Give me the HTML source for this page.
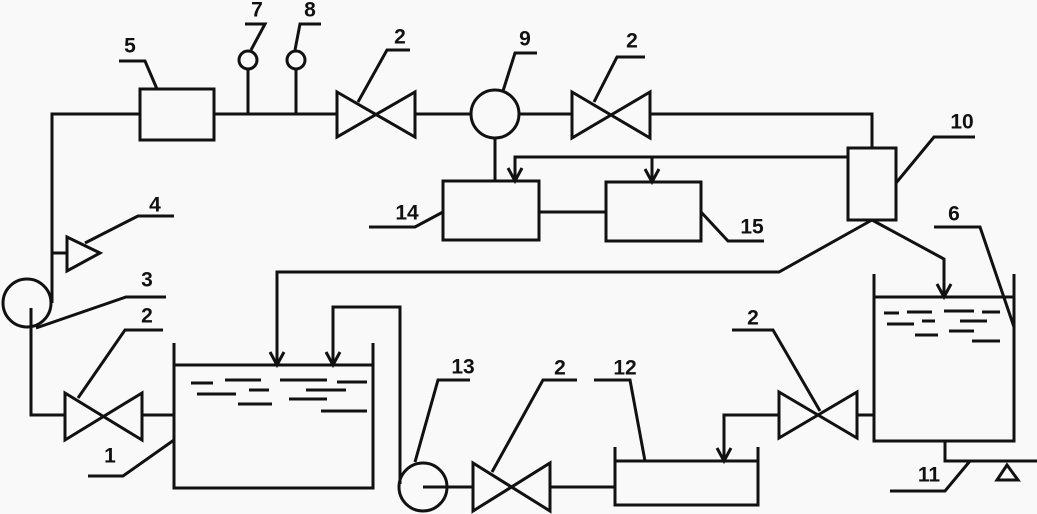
<!DOCTYPE html>
<html><head><meta charset="utf-8"><style>
html,body{margin:0;padding:0;background:#f9f9f9;}
svg{display:block;}
text{font-family:"Liberation Sans",Arial,sans-serif;font-size:21px;font-weight:bold;fill:#111;}
</style></head><body>
<svg width="1037" height="514" viewBox="0 0 1037 514" xmlns="http://www.w3.org/2000/svg">
<rect width="1037" height="514" fill="#f9f9f9"/>
<g fill="none" stroke="#111" stroke-width="3" stroke-linejoin="miter" stroke-linecap="butt">
<!-- left riser and top line -->
<polyline points="52,303 52,114 140,114"/>
<rect x="140" y="89" width="74" height="51"/>
<line x1="214" y1="114" x2="337" y2="114"/>
<!-- gauges 7, 8 -->
<line x1="248" y1="70" x2="248" y2="114"/>
<circle cx="248" cy="60" r="9"/>
<line x1="296" y1="70" x2="296" y2="114"/>
<circle cx="296" cy="60" r="9"/>
<!-- valve top 1 -->
<polygon points="337,92 415,137 415,92 337,137"/>
<line x1="415" y1="114" x2="471" y2="114"/>
<!-- circle 9 -->
<circle cx="495" cy="114" r="24"/>
<line x1="495" y1="138" x2="495" y2="181"/>
<line x1="519" y1="114" x2="572" y2="114"/>
<!-- valve top 2 -->
<polygon points="572,92 650,138 650,92 572,138"/>
<polyline points="650,114 872,114 872,148"/>
<!-- box 10 -->
<rect x="848" y="148" width="48" height="72"/>
<!-- feedback -->
<polyline points="848,157 515,157 515,181"/>
<line x1="652" y1="157" x2="652" y2="182"/>
<!-- boxes 14, 15 -->
<rect x="443" y="181" width="96" height="59"/>
<line x1="539" y1="212" x2="606" y2="212"/>
<rect x="606" y="182" width="95" height="59"/>
<!-- from box 10 down -->
<polyline points="872,220 779,272 277,272 277,365"/>
<polyline points="872,220 944,259 944,297"/>
<!-- tank 6 -->
<polyline points="874,274 874,441 1014,441 1014,274"/>
<line x1="874" y1="297" x2="1014" y2="297"/>
<polyline points="945,441 945,461 1037,461"/>
<polygon points="1007,465 997,480 1018,480"/>
<!-- valve near tank 6 -->
<polygon points="779,392 857,438 857,392 779,438"/>
<line x1="857" y1="415" x2="874" y2="415"/>
<polyline points="779,415 724,415 724,461"/>
<!-- tank 12 -->
<polyline points="615,447 615,505 758,505 758,447"/>
<line x1="615" y1="461" x2="758" y2="461"/>
<line x1="550" y1="487" x2="615" y2="487"/>
<!-- valve bottom middle -->
<polygon points="473,463 550,511 550,463 473,511"/>
<line x1="423" y1="487" x2="473" y2="487"/>
<circle cx="423" cy="487" r="24"/>
<polyline points="400,484 400,307 333,307 333,365"/>
<!-- tank 1 -->
<polyline points="174,343 174,488 373,488 373,343"/>
<line x1="174" y1="365" x2="373" y2="365"/>
<!-- valve bottom left -->
<polygon points="65,393 142,440 142,393 65,440"/>
<line x1="142" y1="415" x2="174" y2="415"/>
<polyline points="65,415 31,415 31,308"/>
<!-- pump 3 -->
<circle cx="27" cy="303" r="24"/>
<!-- element 4 -->
<line x1="52" y1="253" x2="67" y2="253"/>
<polygon points="67,237 67,271 100,253"/>
<!-- arrowheads -->
<polyline points="270,352 277,365 284,352"/>
<polyline points="326,352 333,365 340,352"/>
<polyline points="508,168 515,181 522,168"/>
<polyline points="645,169 652,182 659,169"/>
<polyline points="937,284 944,297 951,284"/>
<polyline points="717,448 724,461 731,448"/>
<!-- water dashes tank 1 -->
<line x1="191" y1="383" x2="213" y2="383"/>
<line x1="225" y1="380" x2="261" y2="380"/>
<line x1="280" y1="380" x2="327" y2="380"/>
<line x1="337" y1="382" x2="367" y2="382"/>
<line x1="197" y1="394" x2="236" y2="394"/>
<line x1="249" y1="390" x2="269" y2="390"/>
<line x1="306" y1="390" x2="346" y2="390"/>
<line x1="238" y1="404" x2="272" y2="404"/>
<line x1="289" y1="399" x2="327" y2="399"/>
<line x1="321" y1="411" x2="367" y2="411"/>
<!-- water dashes tank 6 -->
<line x1="884" y1="313" x2="899" y2="313"/>
<line x1="907" y1="312" x2="932" y2="312"/>
<line x1="944" y1="311" x2="974" y2="311"/>
<line x1="982" y1="312" x2="1000" y2="312"/>
<line x1="887" y1="324" x2="914" y2="324"/>
<line x1="922" y1="321" x2="935" y2="321"/>
<line x1="960" y1="321" x2="987" y2="321"/>
<line x1="915" y1="335" x2="938" y2="335"/>
<line x1="949" y1="331" x2="974" y2="331"/>
<line x1="972" y1="341" x2="1000" y2="341"/>
<!-- leaders -->
<polyline points="119,61 145,61 157,89"/>
<polyline points="251,50 265,24 245,24"/>
<polyline points="295,50 300,24 321,24"/>
<polyline points="358,102 387,50 410,50"/>
<polyline points="503,91 515,53 537,53"/>
<polyline points="594,102 617,57 645,57"/>
<polyline points="896,183 934,137 975,137"/>
<polyline points="443,212 415,227 369,227"/>
<polyline points="701,212 728,241 764,241"/>
<polyline points="1014,327 980,227 934,227"/>
<polyline points="970,461 945,491 890,491"/>
<polyline points="820,411 773,330 732,330"/>
<polyline points="645,461 630,380 594,380"/>
<polyline points="492,472 543,380 577,380"/>
<polyline points="415,462 438,380 470,380"/>
<polyline points="174,440 123,476 88,476"/>
<polyline points="78,398 125,330 163,330"/>
<polyline points="36,328 126,297 166,297"/>
<polyline points="85,243 138,216 174,216"/>
</g>
<g text-anchor="middle" dominant-baseline="central">
<text x="130" y="46">5</text>
<text x="257" y="10">7</text>
<text x="310" y="10">8</text>
<text x="400" y="37">2</text>
<text x="525" y="39">9</text>
<text x="632" y="41">2</text>
<text x="962" y="122">10</text>
<text x="407" y="213">14</text>
<text x="752" y="227">15</text>
<text x="954" y="214">6</text>
<text x="155" y="205">4</text>
<text x="147" y="280">3</text>
<text x="147" y="316">2</text>
<text x="110" y="456">1</text>
<text x="463" y="367">13</text>
<text x="560" y="368">2</text>
<text x="625" y="368">12</text>
<text x="753" y="318">2</text>
<text x="929" y="475">11</text>
</g>
</svg>
</body></html>
